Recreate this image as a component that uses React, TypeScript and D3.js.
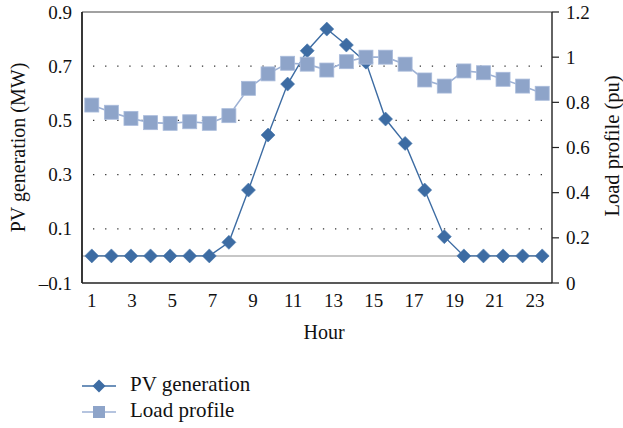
import React from "react";
import * as d3 from "d3";

const hours = d3.range(1, 25);
const pvGeneration = [0, 0, 0, 0, 0, 0, 0, 0.05, 0.243, 0.446, 0.634, 0.757, 0.837, 0.778, 0.715, 0.505, 0.415, 0.243, 0.071, 0, 0, 0, 0, 0];
const loadProfile = [0.788, 0.756, 0.729, 0.71, 0.707, 0.714, 0.707, 0.741, 0.862, 0.926, 0.973, 0.969, 0.943, 0.98, 1.0, 1.0, 0.969, 0.899, 0.872, 0.939, 0.931, 0.902, 0.872, 0.84];
const xTickLabels = [1, 3, 5, 7, 9, 11, 13, 15, 17, 19, 21, 23];
const leftTicks = [0.9, 0.7, 0.5, 0.3, 0.1, -0.1];
const leftGrid = [0.7, 0.5, 0.3, 0.1];
const rightTicks = [1.2, 1, 0.8, 0.6, 0.4, 0.2, 0];

const W = 623, H = 428;
const L = 82, R = 552, T = 12, B = 283;
const PV = "#3d6ca3";
const LOAD = "#8ea4c9";
const LOAD_LINE = "#9db1d4";
const FONT = "Liberation Serif, Times New Roman, DejaVu Serif, serif";
const txt = { fontFamily: FONT };

export default function App() {
  const x = d3.scaleLinear().domain([0.5, 24.5]).range([L, R]);
  const xLab = d3.scaleLinear().domain([1, 23]).range([91.7, 535]);
  const yL = d3.scaleLinear().domain([-0.1, 0.9]).range([B, T]);
  const yR = d3.scaleLinear().domain([0, 1.2]).range([B, T]);

  const pvLine = d3.line<number>().x((_, i) => x(hours[i])).y((d) => yL(d))(pvGeneration) || "";
  const loadLine = d3.line<number>().x((_, i) => x(hours[i])).y((d) => yR(d))(loadProfile) || "";

  const diamond = (cx: number, cy: number, r: number) =>
    `M${cx},${cy - r}L${cx + r},${cy}L${cx},${cy + r}L${cx - r},${cy}Z`;

  const fmt = (v: number) => (v < 0 ? "\u2013" + Math.abs(v).toFixed(1) : v.toFixed(1));
  const fmtR = (v: number) => (v === 0 || v === 1 ? String(v) : v.toFixed(1));

  return (
    <svg width={W} height={H} style={{ position: "absolute", left: 0, top: 0, background: "#fff" }}>
      <rect x={0} y={0} width={W} height={H} fill="#fff" />
      {leftGrid.map((g) => (
        <line key={g} x1={93} x2={548} y1={yL(g)} y2={yL(g)} stroke="#333" strokeWidth={1.3} strokeDasharray="1.3,10.8" />
      ))}
      <line x1={L} x2={R - 3} y1={yL(0)} y2={yL(0)} stroke="#b4b4b4" strokeWidth={1.5} />
      <line x1={L} x2={R} y1={T} y2={T} stroke="#444" strokeWidth={1.2} />
      <line x1={L} x2={R} y1={B} y2={B} stroke="#222" strokeWidth={1.6} />
      <line x1={L} x2={L} y1={T} y2={B} stroke="#222" strokeWidth={1.8} />
      <line x1={R} x2={R} y1={T} y2={B} stroke="#222" strokeWidth={1.4} />
      {rightTicks.map((t) => (
        <g key={t}>
          <line x1={R} x2={R + 7} y1={yR(t)} y2={yR(t)} stroke="#222" strokeWidth={1.2} />
          <text x={566} y={yR(t)} dy="0.35em" fontSize={19} fill="#111" style={txt}>{fmtR(t)}</text>
        </g>
      ))}
      {leftTicks.map((t) => (
        <text key={t} x={72} y={yL(t)} dy="0.35em" fontSize={19} textAnchor="end" fill="#111" style={txt}>{fmt(t)}</text>
      ))}
      {xTickLabels.map((h) => (
        <text key={h} x={xLab(h)} y={307} fontSize={19} textAnchor="middle" fill="#111" style={txt}>{h}</text>
      ))}
      <text x={324} y={339} fontSize={20} textAnchor="middle" fill="#111" style={txt}>Hour</text>
      <text transform={`translate(25,${(T + B) / 2}) rotate(-90)`} fontSize={20} textAnchor="middle" fill="#111" style={txt}>PV generation (MW)</text>
      <text transform={`translate(619,146) rotate(-90)`} fontSize={20.5} textAnchor="middle" fill="#111" style={txt}>Load profile (pu)</text>

      <path d={pvLine} fill="none" stroke={PV} strokeWidth={1.4} />
      {pvGeneration.map((v, i) => (
        <path key={i} d={diamond(x(hours[i]), yL(v), 7)} fill={PV} stroke="#4a78ad" strokeWidth={0.6} />
      ))}
      <path d={loadLine} fill="none" stroke={LOAD_LINE} strokeWidth={1.6} />
      {loadProfile.map((v, i) => (
        <rect key={i} x={x(hours[i]) - 7} y={yR(v) - 7} width={14} height={14} fill={LOAD} stroke="#a9bbdb" strokeWidth={0.8} />
      ))}

      <line x1={82} x2={116} y1={386} y2={386} stroke={PV} strokeWidth={1.4} />
      <path d={diamond(99, 386, 6.5)} fill={PV} />
      <text x={130} y={391} fontSize={21} fill="#111" style={txt}>PV generation</text>
      <line x1={82} x2={116} y1={412} y2={412} stroke={LOAD_LINE} strokeWidth={1.6} />
      <rect x={93} y={406} width={12} height={12} fill={LOAD} />
      <text x={130} y={417} fontSize={21} fill="#111" style={txt}>Load profile</text>
    </svg>
  );
}
